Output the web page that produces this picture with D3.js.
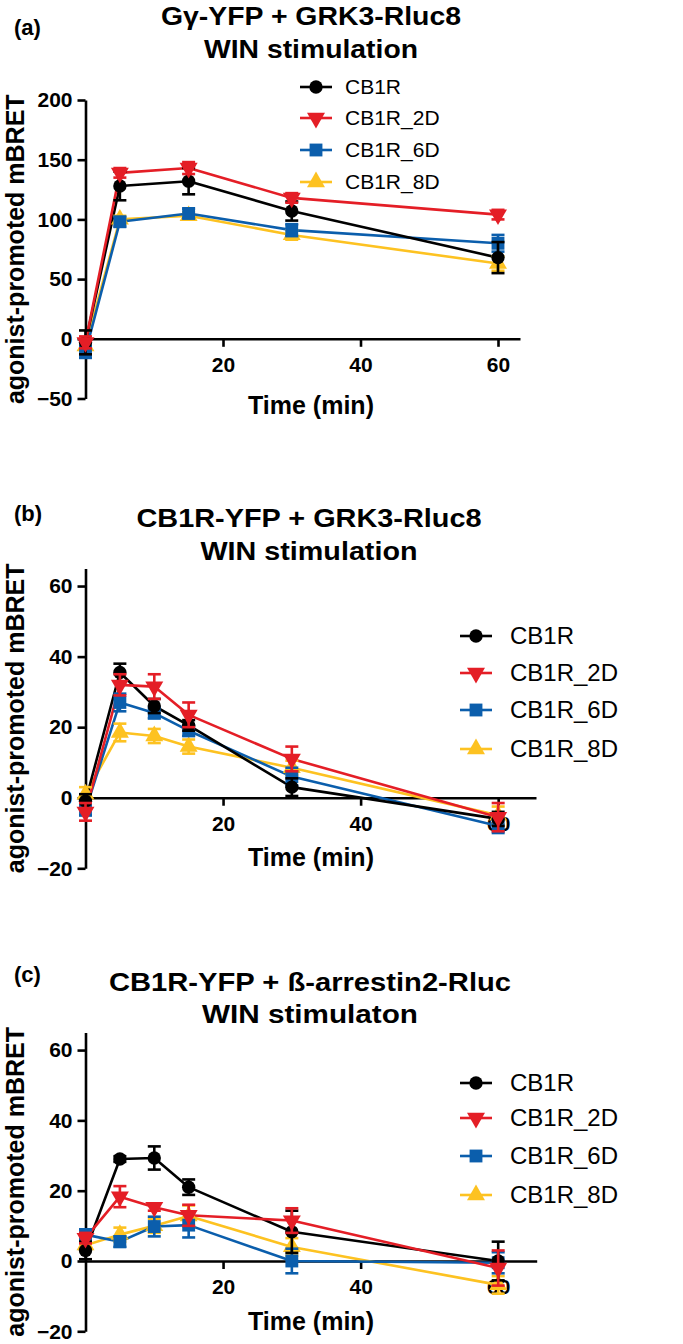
<!DOCTYPE html>
<html><head><meta charset="utf-8">
<script src="https://cdn.jsdelivr.net/npm/d3@7"></script>
<style>
body{margin:0;background:#fff}
svg text{font-family:"Liberation Sans",Arial,Helvetica,sans-serif}
</style>
</head><body>
<svg id="chart" width="683" height="1344"></svg>
<script>
// ---------- data ----------
const seriesNames = ["CB1R","CB1R_2D","CB1R_6D","CB1R_8D"];
const seriesColors = ["#000000","#E41E26","#0B5EAC","#FDC221"];

const timeA = [0,5,15,30,60];
const aCB1R      = [-3,128,132,107,68];   const aCB1R_err    = [10,12,11,8,13];
const aCB1R_2D   = [-3,139,143,118,104];  const aCB1R_2D_err = [5,4,5,4,4];
const aCB1R_6D   = [-11,98,105,91,80];    const aCB1R_6D_err = [5,4,4,5,7];
const aCB1R_8D   = [-6,100,103,87,63];    const aCB1R_8D_err = [4,3,3,4,6];

const timeB = [0,5,10,15,30,60];
const bCB1R      = [-1,35.5,26,20.5,3,-6];      const bCB1R_err    = [2,2.5,2,1.5,2.5,2];
const bCB1R_2D   = [-4,32,31.5,23.5,11,-5.5];   const bCB1R_2D_err = [2.5,3,3.5,3.5,3.5,4];
const bCB1R_6D   = [-3.5,27,24,19,6,-8];        const bCB1R_6D_err = [1.5,2.5,1.5,1.5,2.5,2];
const bCB1R_8D   = [1,18.5,17.5,14.5,8.5,-5];   const bCB1R_8D_err = [2,2.5,2,2,2,2.5];

const timeC = [0,5,10,15,30,60];
const cCB1R      = [3,29,29.3,21,8.3,0];        const cCB1R_err    = [2.5,0.8,3.3,2.2,6,5.5];
const cCB1R_2D   = [6.5,18.3,15.3,13,11.5,-2];  const cCB1R_2D_err = [1.5,3,1,3,3.5,5];
const cCB1R_6D   = [7.5,5.5,9.8,10.2,0,-0.5];   const cCB1R_6D_err = [1.5,1.5,2.8,3.5,3.5,3];
const cCB1R_8D   = [4.5,7.5,10,12.8,4,-6.8];    const cCB1R_8D_err = [1.5,2,2,3,2.5,2.5];

const yTicksA = [-50,0,50,100,150,200];
const yTicksBC = [-20,0,20,40,60];
const xTicks = [20,40,60];

const panelLetters = ["(a)","(b)","(c)"];
const titlesA = ["Gγ-YFP + GRK3-Rluc8","WIN stimulation"];
const titlesB = ["CB1R-YFP + GRK3-Rluc8","WIN stimulation"];
const titlesC = ["CB1R-YFP + ß-arrestin2-Rluc","WIN stimulaton"];
const yLabel = "agonist-promoted mBRET";
const xLabel = "Time (min)";

// ---------- layout ----------
const panels = [
  {letter:panelLetters[0], titles:titlesA, time:timeA,
   vals:[aCB1R,aCB1R_2D,aCB1R_6D,aCB1R_8D], errs:[aCB1R_err,aCB1R_2D_err,aCB1R_6D_err,aCB1R_8D_err],
   yTicks:yTicksA, yDom:[-50,200], yRange:[398.5,100], xDom:[0,63.2], xRange:[85.5,520],
   letterPos:[14,35], titleX:311, titleY:[25,58], titleW:[300,214],
   legMarkX:316, legLine:[300,332], legTextX:345, legRows:[87,118,150,182], legFont:21,
   xLabelY:414},
  {letter:panelLetters[1], titles:titlesB, time:timeB,
   vals:[bCB1R,bCB1R_2D,bCB1R_6D,bCB1R_8D], errs:[bCB1R_err,bCB1R_2D_err,bCB1R_6D_err,bCB1R_8D_err],
   yTicks:yTicksBC, yDom:[-20,65], yRange:[868.3,568.4], xDom:[0,65.5], xRange:[85.5,536],
   letterPos:[14,521], titleX:309, titleY:[527,560], titleW:[345,217],
   legMarkX:476, legLine:[460,492], legTextX:510, legRows:[636,673,710,749], legFont:24,
   xLabelY:866},
  {letter:panelLetters[2], titles:titlesC, time:timeC,
   vals:[cCB1R,cCB1R_2D,cCB1R_6D,cCB1R_8D], errs:[cCB1R_err,cCB1R_2D_err,cCB1R_6D_err,cCB1R_8D_err],
   yTicks:yTicksBC, yDom:[-20,65], yRange:[1331.3,1032.5], xDom:[0,65.6], xRange:[85.5,536.7],
   letterPos:[14,982], titleX:310, titleY:[991,1023], titleW:[402,216],
   legMarkX:476, legLine:[460,492], legTextX:510, legRows:[1083,1118,1156,1195], legFont:24,
   xLabelY:1330}
];

const svg = d3.select("#chart");
const symTypes = [d3.symbolCircle, d3.symbolTriangle, d3.symbolSquare, d3.symbolTriangle];
const symSizes = [140, 140, 165, 140];
const symRot = [0, 180, 0, 0];
const drawOrder = [3,2,0,1];
const LW = 2.6;

function symbolPath(i){ return d3.symbol().type(symTypes[i]).size(symSizes[i])(); }

panels.forEach(p => {
  const g = svg.append("g");
  const x = d3.scaleLinear().domain(p.xDom).range(p.xRange);
  const y = d3.scaleLinear().domain(p.yDom).range(p.yRange);

  g.append("text").attr("x",p.letterPos[0]).attr("y",p.letterPos[1])
    .attr("font-size",22).attr("font-weight","bold").text(p.letter);
  p.titles.forEach((t,k)=>{
    g.append("text").attr("x",p.titleX).attr("y",p.titleY[k]).attr("text-anchor","middle")
      .attr("font-size",25).attr("font-weight","bold")
      .attr("textLength",p.titleW[k]).attr("lengthAdjust","spacingAndGlyphs").text(t);
  });

  const yAx = g.append("g").attr("transform",`translate(${x(0)},0)`)
    .call(d3.axisLeft(y).tickValues(p.yTicks).tickSize(8).tickSizeOuter(0).tickPadding(5).tickFormat(d3.format("d")));
  const xAx = g.append("g").attr("transform",`translate(0,${y(0)})`)
    .call(d3.axisBottom(x).tickValues(xTicks).tickSize(8).tickSizeOuter(0).tickPadding(10.5).tickFormat(d3.format("d")));
  [yAx,xAx].forEach(a=>{
    a.select(".domain").attr("stroke","#000").attr("stroke-width",LW);
    a.selectAll(".tick line").attr("stroke","#000").attr("stroke-width",LW);
    a.selectAll(".tick text").attr("fill","#000").attr("font-size",21).attr("font-weight","bold")
      .attr("font-family",'"Liberation Sans",Arial,sans-serif');
  });

  const yMid = (p.yRange[0]+p.yRange[1])/2;
  g.append("text").attr("transform",`translate(24,${yMid}) rotate(-90)`).attr("text-anchor","middle")
    .attr("font-size",25).attr("font-weight","bold").text(yLabel);
  g.append("text").attr("x",311).attr("y",p.xLabelY).attr("text-anchor","middle")
    .attr("font-size",25).attr("font-weight","bold").text(xLabel);

  const line = d3.line().x(d=>x(d[0])).y(d=>y(d[1]));
  drawOrder.forEach(i=>{
    const pts = p.time.map((t,j)=>[t,p.vals[i][j]]);
    g.append("path").attr("d",line(pts)).attr("fill","none")
      .attr("stroke",seriesColors[i]).attr("stroke-width",LW).attr("stroke-linejoin","round");
  });
  drawOrder.forEach(i=>{
    const eg = g.append("g");
    p.time.forEach((t,j)=>{
      const v = p.vals[i][j], e = p.errs[i][j];
      if(e>0){
        const cx = x(t), y1 = y(v+e), y2 = y(v-e);
        eg.append("line").attr("x1",cx).attr("x2",cx).attr("y1",y1).attr("y2",y2)
          .attr("stroke",seriesColors[i]).attr("stroke-width",LW);
        [y1,y2].forEach(yy=>eg.append("line").attr("x1",cx-6.5).attr("x2",cx+6.5).attr("y1",yy).attr("y2",yy)
          .attr("stroke",seriesColors[i]).attr("stroke-width",LW));
      }
    });
    p.time.forEach((t,j)=>{
      eg.append("path").attr("d",symbolPath(i))
        .attr("transform",`translate(${x(t)},${y(p.vals[i][j])}) rotate(${symRot[i]})`)
        .attr("fill",seriesColors[i]);
    });
  });

  seriesNames.forEach((n,i)=>{
    const ry = p.legRows[i];
    g.append("line").attr("x1",p.legLine[0]).attr("x2",p.legLine[1]).attr("y1",ry).attr("y2",ry)
      .attr("stroke",seriesColors[i]).attr("stroke-width",LW);
    g.append("path").attr("d",symbolPath(i))
      .attr("transform",`translate(${p.legMarkX},${ry}) rotate(${symRot[i]})`).attr("fill",seriesColors[i]);
    g.append("text").attr("x",p.legTextX).attr("y",ry).attr("dy","0.35em")
      .attr("font-size",p.legFont).text(n);
  });
});
</script>
</body></html>
